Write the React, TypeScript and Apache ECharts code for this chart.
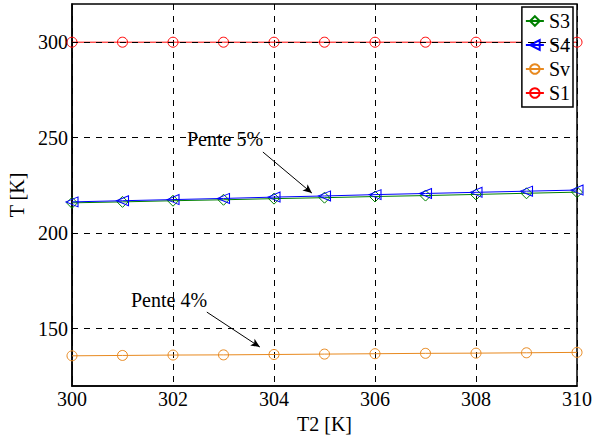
import React, { useEffect, useRef } from "react";
import * as echarts from "echarts";

const xValues = [300, 301, 302, 303, 304, 305, 306, 307, 308, 309, 310];
const s3 = [215.9, 216.4, 217.0, 217.5, 218.1, 218.6, 219.2, 219.7, 220.3, 220.9, 221.5];
const s4 = [216.4, 217.0, 217.6, 218.2, 218.9, 219.5, 220.2, 220.8, 221.4, 222.0, 222.6];
const sv = [135.8, 136.0, 136.2, 136.3, 136.5, 136.7, 136.9, 137.1, 137.2, 137.4, 137.6];
const s1 = [300, 300, 300, 300, 300, 300, 300, 300, 300, 300, 300];
const yGridValues = [150, 200, 250, 300];
const arrow5 = [[303.78, 242.5], [304.75, 221.0]];
const arrow4 = [[302.67, 158.7], [303.72, 140.4]];

const FONT = "Liberation Serif";
const FS = 20;

export default function App() {
  const ref = useRef<HTMLDivElement>(null);
  useEffect(() => {
    const chart = echarts.init(ref.current!, null, { renderer: "svg" });
    const mk = (arr: number[]) => xValues.map((x, i) => [x, arr[i]]);
    const hollow = (c: string) => ({ color: "none", borderColor: c, borderWidth: 1 });
    chart.setOption({
      animation: false,
      textStyle: { fontFamily: FONT },
      grid: {
        left: 72, right: 30, top: 4, bottom: 50,
        containLabel: false, outerBoundsMode: "none",
        show: true, borderColor: "#000", borderWidth: 1.5, backgroundColor: "transparent",
      },
      legend: {
        data: ["S3", "S4", "Sv", "S1"],
        orient: "vertical",
        right: 34, top: 7,
        borderColor: "#000", borderWidth: 1.5,
        backgroundColor: "#fff",
        padding: [4, 3, 4, 3],
        itemGap: 4,
        itemWidth: 18, itemHeight: 12,
        textStyle: { fontFamily: FONT, fontSize: 20, color: "#000" },
      },
      xAxis: {
        type: "value", min: 300, max: 310, interval: 2,
        name: "T2 [K]", nameLocation: "middle", nameGap: 24,
        nameTextStyle: { fontFamily: FONT, fontSize: FS, color: "#000" },
        axisLine: { show: true, lineStyle: { color: "#000", width: 1.5 } },
        axisTick: { show: false },
        axisLabel: { fontFamily: FONT, fontSize: FS, color: "#000", margin: 3 },
        splitLine: { show: true, lineStyle: { color: "#000", type: [6, 6], width: 1 } },
      },
      yAxis: {
        type: "value", min: 120, max: 320, interval: 10,
        name: "T [K]", nameLocation: "middle", nameGap: 40,
        nameTextStyle: { fontFamily: FONT, fontSize: FS, color: "#000" },
        axisLine: { show: true, lineStyle: { color: "#000", width: 1.5 } },
        axisTick: { show: false },
        axisLabel: {
          fontFamily: FONT, fontSize: FS, color: "#000", margin: 4,
          formatter: (v: number) => (v % 50 === 0 && v !== 320 && v !== 120 ? String(v) : ""),
        },
        splitLine: { show: false },
      },
      graphic: [
        { type: "text", left: 187, top: 129, style: { text: "Pente 5%", fontFamily: FONT, fontSize: FS, fill: "#000" }, z: 10 },
        { type: "text", left: 131, top: 290, style: { text: "Pente 4%", fontFamily: FONT, fontSize: FS, fill: "#000" }, z: 10 },
      ],
      series: [
        {
          name: "grid", type: "line", data: [], z: 1, silent: true,
          markLine: {
            silent: true, symbol: ["none", "none"], label: { show: false },
            lineStyle: { color: "#000", type: [6, 6], width: 1 },
            data: yGridValues.map((v) => ({ yAxis: v })),
          },
        },
        {
          name: "arrows", type: "line", data: [], z: 5, silent: true,
          markLine: {
            silent: true, symbol: ["none", "arrow"], symbolSize: [6, 9], label: { show: false },
            lineStyle: { color: "#000", type: "solid", width: 1 },
            data: [
              [{ coord: arrow5[0] }, { coord: arrow5[1] }],
              [{ coord: arrow4[0] }, { coord: arrow4[1] }],
            ],
          },
        },
        {
          name: "S3", type: "line", data: mk(s3), z: 3,
          symbol: "diamond", symbolSize: 11,
          lineStyle: { color: "#008000", width: 1 },
          itemStyle: hollow("#008000"),
        },
        {
          name: "S4", type: "line", data: mk(s4), z: 4,
          symbol: "triangle", symbolSize: [10, 12], symbolRotate: 90,
          lineStyle: { color: "#0000ff", width: 1 },
          itemStyle: hollow("#0000ff"),
        },
        {
          name: "Sv", type: "line", data: mk(sv), z: 3,
          symbol: "circle", symbolSize: 10,
          lineStyle: { color: "#e8891f", width: 1 },
          itemStyle: hollow("#e8891f"),
        },
        {
          name: "S1", type: "line", data: mk(s1), z: 3,
          symbol: "circle", symbolSize: 10,
          lineStyle: { color: "#ff0000", width: 1 },
          itemStyle: hollow("#ff0000"),
        },
      ],
    });
    return () => chart.dispose();
  }, []);
  return <div ref={ref} style={{ width: 607, height: 436, position: "absolute", left: 0, top: 0 }} />;
}
